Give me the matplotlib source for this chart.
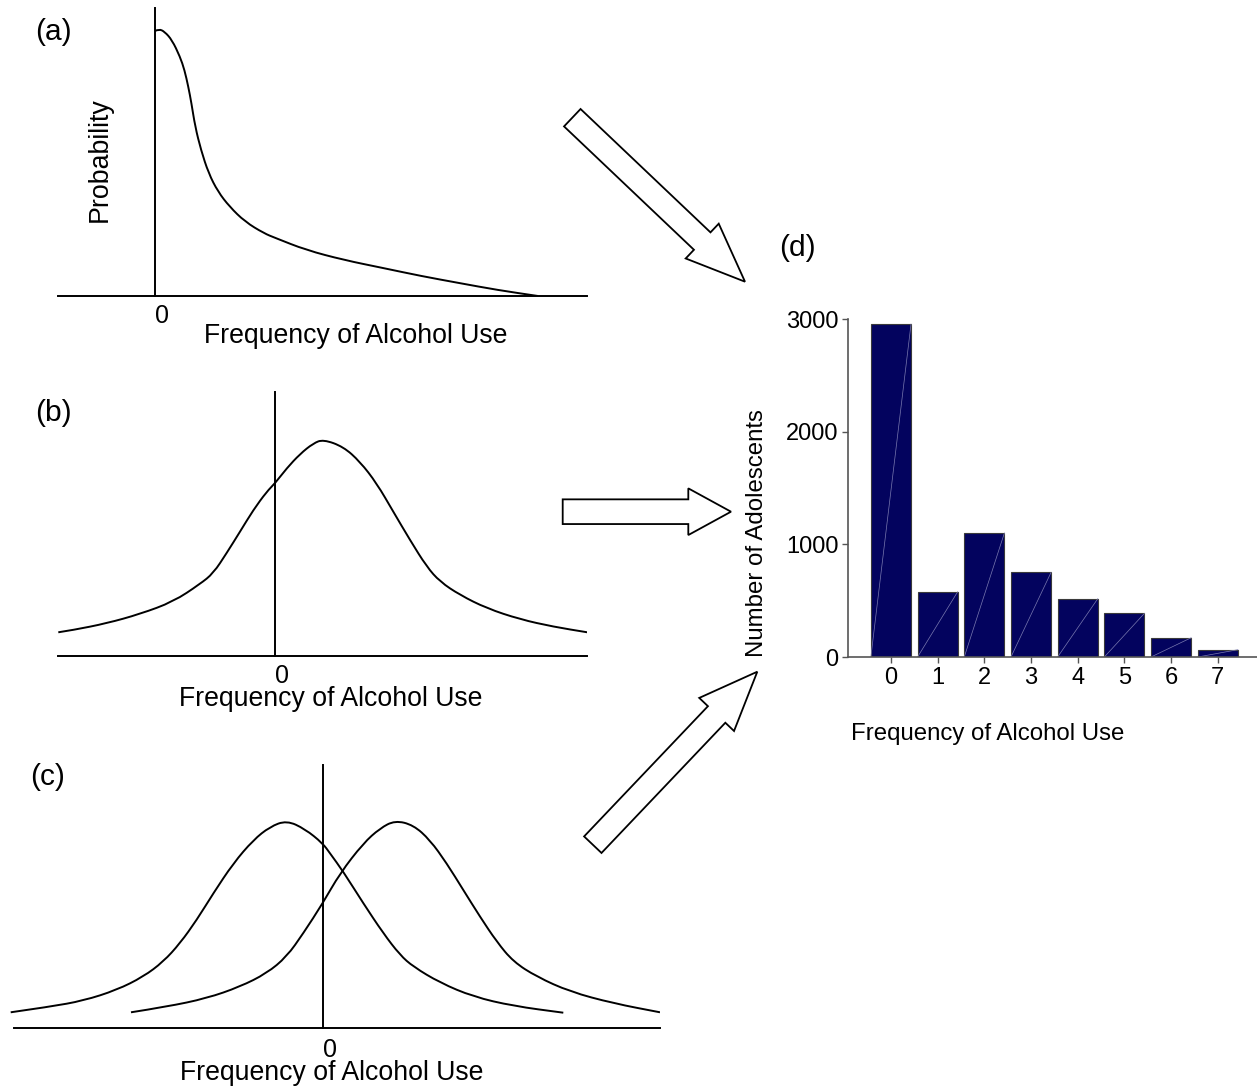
import matplotlib.pyplot as plt
from matplotlib.patches import FancyArrow, PathPatch
from matplotlib.path import Path

plt.rcParams['font.family'] = ['Liberation Sans', 'DejaVu Sans']

W, H = 1257, 1091

# (a) skewed distribution
a_x = [0.0, 0.04, 0.096, 0.17, 0.25, 0.295, 0.333, 0.364, 0.402, 0.46, 0.536,
       0.63, 0.746, 0.90, 1.09, 1.205, 1.51, 1.89, 2.28, 2.66, 3.04, 3.425, 3.83]
a_y = [2.65, 2.67, 2.643, 2.56, 2.393, 2.26, 2.093, 1.93, 1.693, 1.46, 1.227,
       1.043, 0.893, 0.743, 0.627, 0.58, 0.46, 0.36, 0.28, 0.20, 0.13, 0.06, 0.0]

# (b) single continuous distribution
b_x = [-2.167, -2.017, -1.683, -1.35, -1.017, -0.75, -0.617, -0.483, -0.35,
       -0.217, -0.083, 0.0, 0.117, 0.25, 0.383, 0.483, 0.683, 0.85, 1.017,
       1.183, 1.35, 1.517, 1.65, 1.85, 2.117, 2.45, 2.783, 3.123]
b_y = [0.237, 0.26, 0.327, 0.42, 0.543, 0.72, 0.827, 1.03, 1.243, 1.46, 1.643,
       1.727, 1.877, 2.02, 2.127, 2.165, 2.093, 1.943, 1.727, 1.443, 1.16, 0.893,
       0.743, 0.61, 0.477, 0.367, 0.293, 0.237]

# (c) two overlapping distributions
c1_x = [-3.12, -2.727, -2.394, -2.06, -1.794, -1.594, -1.427, -1.26, -1.094,
        -0.894, -0.694, -0.527, -0.36, -0.177, 0.0, 0.073, 0.206, 0.406, 0.606,
        0.773, 0.906, 1.173, 1.506, 1.906, 2.406]
c1_y = [0.16, 0.216, 0.276, 0.383, 0.516, 0.666, 0.85, 1.083, 1.35, 1.65, 1.883,
        2.016, 2.078, 1.993, 1.85, 1.75, 1.566, 1.25, 0.95, 0.733, 0.616, 0.456,
        0.316, 0.223, 0.156]
c2_x = [-1.917, -1.56, -1.16, -0.827, -0.56, -0.36, -0.194, 0.0, 0.173, 0.406,
        0.573, 0.723, 0.906, 1.073, 1.24, 1.406, 1.573, 1.74, 1.906, 2.14, 2.473,
        2.906, 3.373]
c2_y = [0.16, 0.216, 0.30, 0.416, 0.55, 0.716, 0.95, 1.25, 1.55, 1.85, 2.0, 2.078,
        2.033, 1.883, 1.65, 1.383, 1.116, 0.866, 0.666, 0.516, 0.366, 0.25, 0.16]

# (d) observed counts
freq = [0, 1, 2, 3, 4, 5, 6, 7]
counts = [2955, 580, 1101, 752, 518, 388, 171, 65]

label_x = 'Frequency of Alcohol Use'

fig = plt.figure(figsize=(W / 100, H / 100), dpi=100)


def box(left, top, right, bottom):
    return [left / W, 1 - bottom / H, (right - left) / W, (bottom - top) / H]


def smooth_curve(ax, xs, ys):
    # quadratic bezier through the read points, drawn by matplotlib's path renderer
    verts = [(xs[0], ys[0])]
    codes = [Path.MOVETO]
    for i in range(1, len(xs) - 1):
        verts += [(xs[i], ys[i]), ((xs[i] + xs[i + 1]) / 2, (ys[i] + ys[i + 1]) / 2)]
        codes += [Path.CURVE3, Path.CURVE3]
    verts.append((xs[-1], ys[-1]))
    codes.append(Path.LINETO)
    ax.add_patch(PathPatch(Path(verts, codes), fill=False, ec='black', lw=1.4,
                           capstyle='butt'))


def sketch_axes(rect, xlim, ylim, pad):
    ax = fig.add_axes(box(*rect))
    ax.set_xlim(xlim)
    ax.set_ylim(ylim)
    ax.patch.set_alpha(0)
    ax.spines['top'].set_visible(False)
    ax.spines['right'].set_visible(False)
    ax.spines['left'].set_position(('data', 0))
    ax.spines['left'].set_linewidth(1.4)
    ax.spines['bottom'].set_linewidth(1.4)
    ax.set_yticks([])
    ax.set_xticks([0])
    ax.set_xticklabels(['0'], fontsize=18, ha='left')
    ax.tick_params(axis='x', length=0, pad=pad)
    return ax


# panel a
ax_a = sketch_axes((58, 8, 587, 296), (-0.97, 4.32), (0, 2.88), 6)
smooth_curve(ax_a, a_x, a_y)

# panel b
ax_b = sketch_axes((58, 391.7, 587.3, 656), (-2.17, 3.123), (0, 2.643), 6)
smooth_curve(ax_b, b_x, b_y)

# panel c
ax_c = sketch_axes((10, 765, 660, 1028.3), (-3.127, 3.373), (0, 2.633), 7)
ax_c.spines['bottom'].set_bounds(-3.087, 3.373)
smooth_curve(ax_c, c1_x, c1_y)
smooth_curve(ax_c, c2_x, c2_y)

# panel d
ax_d = fig.add_axes(box(848, 319, 1257, 657))
bar_w = 0.86
ax_d.bar(freq, counts, width=bar_w, color='#03035e', edgecolor='#3a3a3a', lw=0.8)
for f, c in zip(freq, counts):
    ax_d.plot([f - bar_w / 2, f + bar_w / 2], [0, c], color='#7a7ab0', lw=0.5)
ax_d.set_xlim(-0.92, 7.84)
ax_d.set_ylim(0, 3000)
ax_d.set_xticks(freq)
ax_d.set_yticks([0, 1000, 2000, 3000])
ax_d.tick_params(labelsize=17, length=4, width=1, color='#555555', pad=3)
ax_d.spines['top'].set_visible(False)
ax_d.spines['right'].set_visible(False)
for s in ['left', 'bottom']:
    ax_d.spines[s].set_color('#555555')
    ax_d.spines[s].set_linewidth(1.2)
ax_d.patch.set_alpha(0)

# overlay in pixel units for labels and arrows
ov = fig.add_axes([0, 0, 1, 1])
ov.set_xlim(0, W)
ov.set_ylim(H, 0)
ov.axis('off')
ov.patch.set_alpha(0)

ov.text(35, 32, '(a)', fontsize=21.5, va='center')
ov.text(35, 413, '(b)', fontsize=21.5, va='center')
ov.text(30, 777, '(c)', fontsize=21.5, va='center')
ov.text(779, 248, '(d)', fontsize=21.5, va='center')

ov.text(356, 343, label_x, fontsize=19.2, ha='center', va='baseline')
ov.text(331, 706, label_x, fontsize=19.2, ha='center', va='baseline')
ov.text(332, 1080, label_x, fontsize=19.2, ha='center', va='baseline')
ov.text(988, 740, label_x, fontsize=17.3, ha='center', va='baseline')

ov.text(100, 160, 'Probability', fontsize=19.3, rotation=90, ha='center', va='center')
ov.text(757, 533, 'Number of Adolescents', fontsize=17.3, rotation=90,
        ha='center', va='center')

arrow_style = dict(width=24, head_width=48, head_length=59,
                   length_includes_head=True, fc='white', ec='black', lw=1.3)
ov.add_patch(FancyArrow(572.3, 117.7, 745 - 572.3, 281.7 - 117.7, **arrow_style))
ov.add_patch(FancyArrow(562.7, 511.7, 731 - 562.7, 0, width=24.7, head_width=46.7,
                        head_length=42.7, length_includes_head=True,
                        fc='white', ec='black', lw=1.3))
ov.add_patch(FancyArrow(592.8, 844.7, 757.3 - 592.8, 671.7 - 844.7, **arrow_style))

fig.savefig('out.png', dpi=100)
